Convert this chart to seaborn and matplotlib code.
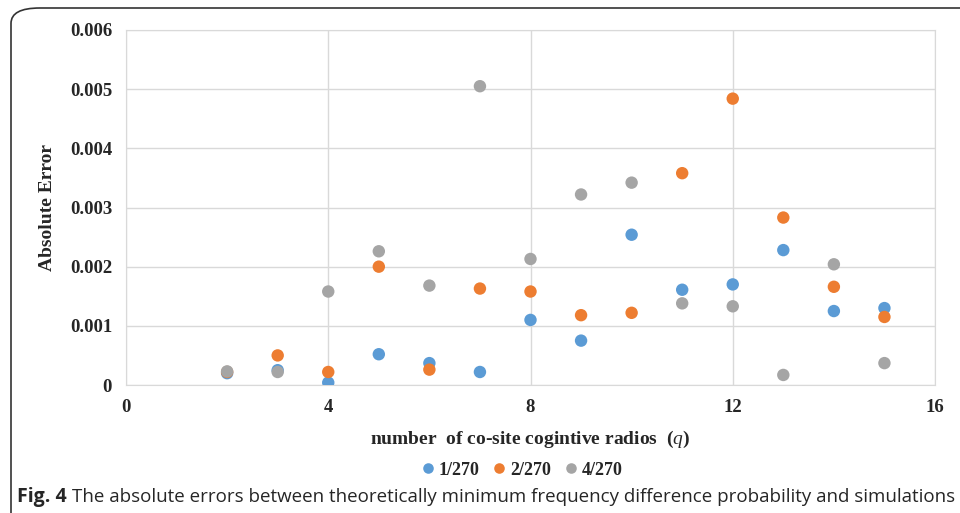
import numpy as np
import pandas as pd
import matplotlib.pyplot as plt
import seaborn as sns
from matplotlib.patches import FancyBboxPatch

# Data
q = [2, 3, 4, 5, 6, 7, 8, 9, 10, 11, 12, 13, 14, 15]
err_1 = [0.00020, 0.00025, 0.00004, 0.00052, 0.00037, 0.00022, 0.00110, 0.00075,
         0.00254, 0.00161, 0.00170, 0.00228, 0.00125, 0.00130]
err_2 = [0.00022, 0.00050, 0.00022, 0.00200, 0.00026, 0.00163, 0.00158, 0.00118,
         0.00122, 0.00358, 0.00484, 0.00283, 0.00166, 0.00115]
err_4 = [0.00023, 0.00022, 0.00158, 0.00226, 0.00168, 0.00505, 0.00213, 0.00322,
         0.00342, 0.00138, 0.00133, 0.00017, 0.00204, 0.00037]
series = ['1/270', '2/270', '4/270']
colors = ['#5B9BD5', '#ED7D31', '#A5A5A5']

df = pd.concat([
    pd.DataFrame({'q': q, 'err': vals, 'series': name})
    for name, vals in zip(series, [err_1, err_2, err_4])
], ignore_index=True)

sns.set_style('white')
plt.rcParams['font.family'] = ['Liberation Serif', 'DejaVu Serif']
plt.rcParams['mathtext.fontset'] = 'custom'
plt.rcParams['mathtext.it'] = 'Liberation Serif:italic'

fig = plt.figure(figsize=(9.6, 5.13), dpi=100)
ax = fig.add_axes([126 / 960, 1 - 385 / 513, (935 - 126) / 960, (385 - 30) / 513])

sns.scatterplot(data=df, x='q', y='err', hue='series', palette=colors,
                s=80, edgecolor='none', ax=ax, zorder=3)

ax.set_xlim(0, 16)
ax.set_ylim(0, 0.006)
ax.set_xticks([0, 4, 8, 12, 16])
ax.set_yticks(np.arange(0, 0.0061, 0.001))
ax.set_yticklabels(['0'] + [f'{v:.3f}' for v in np.arange(0.001, 0.0061, 0.001)])
ax.grid(True, color='#D9D9D9', linewidth=1)
for sp in ax.spines.values():
    sp.set_color('#D9D9D9')
ax.tick_params(length=0, labelsize=13.5, pad=10)
for lab in ax.get_xticklabels() + ax.get_yticklabels():
    lab.set_fontweight('bold')

ax.set_xlabel('number  of co-site cogintive radios  ($q$)',
              fontsize=14, fontweight='bold', labelpad=9)
ax.set_ylabel('Absolute Error', fontsize=14, fontweight='bold', labelpad=10)

leg = ax.legend(loc='upper center', bbox_to_anchor=(0.49, -0.17), ncol=3,
                frameon=False, prop={'weight': 'bold', 'size': 13},
                handlelength=0.6, handletextpad=0.3, columnspacing=0.8,
                markerscale=0.85)

# outer frame and caption
frame = FancyBboxPatch((11 / 960, -0.05), 1.2, (1 - 8 / 513) + 0.05,
                       boxstyle='round,pad=0,rounding_size=0.03',
                       transform=fig.transFigure, fill=False,
                       edgecolor='#333333', linewidth=1.2, clip_on=False)
fig.patches.append(frame)

fig.text(17 / 960, 1 - 497 / 513, 'Fig. 4', fontsize=14, fontweight='bold',
         family='Open Sans', va='center')
fig.text(72 / 960, 1 - 497 / 513,
         'The absolute errors between theoretically minimum frequency difference probability and simulations',
         fontsize=13.5, family='Open Sans', va='center')

plt.savefig('out.png', dpi=100)
